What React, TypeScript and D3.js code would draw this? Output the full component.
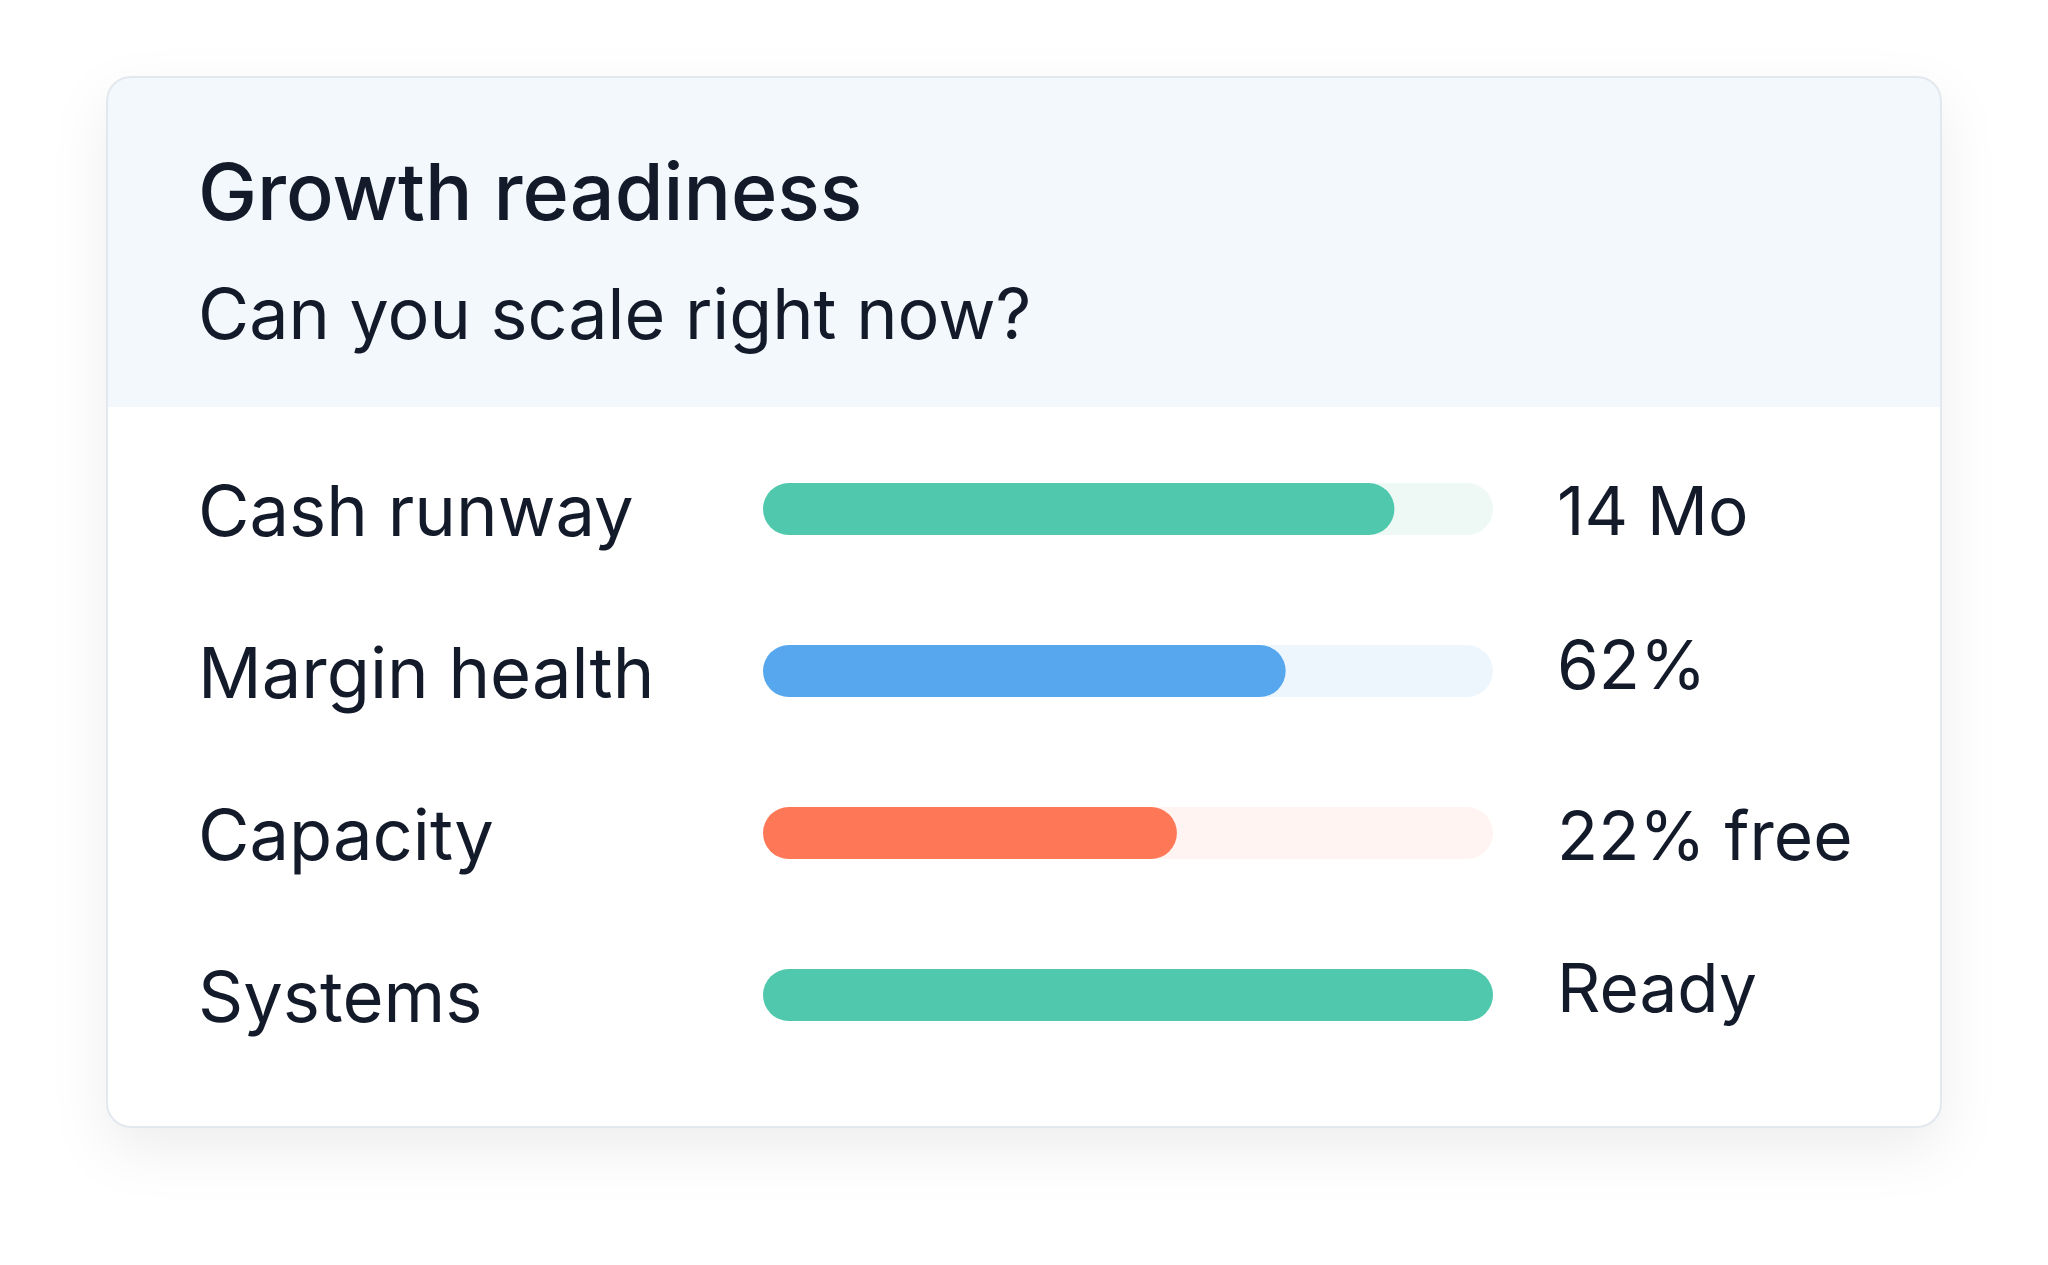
import React from "react";
import * as d3 from "d3";

const title = "Growth readiness";
const subtitle = "Can you scale right now?";
const categories = ["Cash runway", "Margin health", "Capacity", "Systems"];
const scores = [86.5, 71.6, 56.7, 100];
const valueLabels = ["14 Mo", "62%", "22% free", "Ready"];
const fillColors = ["#50c8ae", "#56a7ee", "#fe7858", "#50c8ae"];
const trackColors = ["#eef9f6", "#eef6fd", "#fff4f1", "#eef9f6"];

const W = 2048;
const H = 1265;
const FONT = "Inter, 'DejaVu Sans', sans-serif";

export default function App() {
  const card = { x: 107, y: 77, w: 1834, h: 1050, r: 24 };
  const headerH = 330;
  const x = d3.scaleLinear().domain([0, 100]).range([763, 1493]);
  const y = d3.scalePoint<string>().domain(categories).range([509, 995]);
  const barH = 52;
  const textColor = "#131a2a";
  // small per-row baseline nudges for value text, as in the reference layout
  const valueNudge = [26, 18, 27, 17];

  const headerPath = `M${card.x + card.r},${card.y} H${card.x + card.w - card.r} A${card.r},${card.r} 0 0 1 ${card.x + card.w},${card.y + card.r} V${card.y + headerH} H${card.x} V${card.y + card.r} A${card.r},${card.r} 0 0 1 ${card.x + card.r},${card.y} Z`;

  return (
    <svg width={W} height={H} style={{ position: "absolute", left: 0, top: 0, background: "#ffffff" }}>
      <defs>
        <filter id="shadow" x="-10%" y="-10%" width="120%" height="130%">
          <feDropShadow dx="0" dy="22" stdDeviation="28" floodColor="#000000" floodOpacity="0.07" />
        </filter>
      </defs>
      <rect width={W} height={H} fill="#ffffff" />
      <rect x={card.x} y={card.y} width={card.w} height={card.h} rx={card.r} fill="#ffffff" filter="url(#shadow)" />
      <path d={headerPath} fill="#f3f8fd" />
      <rect x={card.x} y={card.y} width={card.w} height={card.h} rx={card.r} fill="none" stroke="#e3e8ee" strokeWidth={2} />
      <text x={198} y={220} fontFamily={FONT} fontWeight={500} fontSize={79} fill={textColor}>{title}</text>
      <text x={198} y={339} fontFamily={FONT} fontWeight={400} fontSize={70} fill={textColor}>{subtitle}</text>
      {categories.map((c, i) => {
        const cy = y(c) as number;
        return (
          <g key={c}>
            <text x={198} y={cy + 27} fontFamily={FONT} fontWeight={400} fontSize={70.5} fill={textColor}>{c}</text>
            <rect x={x(0)} y={cy - barH / 2} width={x(100) - x(0)} height={barH} rx={barH / 2} fill={trackColors[i]} />
            <rect x={x(0)} y={cy - barH / 2} width={x(scores[i]) - x(0)} height={barH} rx={barH / 2} fill={fillColors[i]} />
            <text x={1557} y={cy + valueNudge[i]} fontFamily={FONT} fontWeight={400} fontSize={67.5} fill={textColor}>{valueLabels[i]}</text>
          </g>
        );
      })}
    </svg>
  );
}
